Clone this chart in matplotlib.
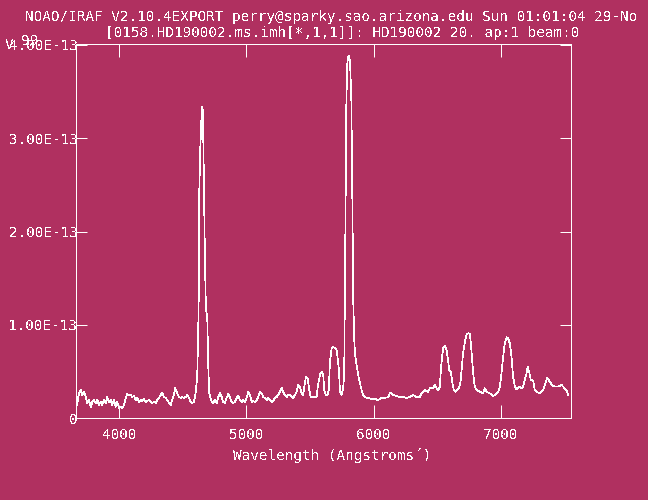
import numpy as np
import matplotlib
matplotlib.use("Agg")
import matplotlib.pyplot as plt

# ---- data ----
wavelength = [
    3659, 3670, 3683, 3696, 3709, 3722, 3736, 3748, 3762, 3775, 3788, 3801, 3814, 3827, 3840,
    3854, 3866, 3880, 3893, 3905, 3919, 3932, 3945, 3958, 3971, 3984, 3997, 4011, 4023, 4037,
    4050, 4063, 4076, 4089, 4102, 4115, 4129, 4141, 4155, 4168, 4181, 4194, 4207, 4220, 4233,
    4247, 4259, 4273, 4286, 4299, 4312, 4325, 4338, 4351, 4365, 4377, 4391, 4404, 4416, 4430,
    4438, 4451, 4469, 4483, 4495, 4508, 4522, 4534, 4548, 4561, 4574, 4587, 4595, 4603, 4613,
    4621, 4626, 4629, 4637, 4642, 4648, 4652, 4656, 4660, 4666, 4674, 4681, 4692, 4700, 4707,
    4718, 4726, 4739, 4752, 4766, 4778, 4791, 4805, 4817, 4831, 4844, 4857, 4870, 4883, 4896,
    4909, 4923, 4935, 4949, 4962, 4975, 4988, 5001, 5014, 5027, 5041, 5053, 5067, 5080, 5093,
    5106, 5119, 5132, 5145, 5159, 5171, 5185, 5198, 5211, 5224, 5237, 5250, 5263, 5277, 5289,
    5303, 5316, 5328, 5342, 5355, 5368, 5381, 5394, 5407, 5420, 5434, 5446, 5460, 5468, 5481,
    5494, 5505, 5525, 5552, 5560, 5570, 5583, 5596, 5604, 5612, 5623, 5638, 5648, 5656, 5670,
    5682, 5696, 5709, 5722, 5729, 5735, 5748, 5761, 5769, 5774, 5780, 5786, 5794, 5802, 5810,
    5817, 5825, 5833, 5840, 5847, 5853, 5866, 5879, 5892, 5906, 5918, 5931, 5957, 5984, 6010,
    6036, 6063, 6089, 6115, 6128, 6141, 6154, 6181, 6207, 6233, 6259, 6285, 6311, 6338, 6364,
    6377, 6390, 6403, 6429, 6443, 6468, 6482, 6495, 6508, 6521, 6529, 6539, 6547, 6560, 6574,
    6586, 6594, 6608, 6618, 6631, 6645, 6657, 6671, 6684, 6692, 6704, 6718, 6731, 6744, 6757,
    6765, 6775, 6786, 6796, 6810, 6836, 6862, 6875, 6888, 6914, 6940, 6967, 6980, 6993, 7006,
    7019, 7032, 7046, 7058, 7071, 7085, 7097, 7111, 7124, 7137, 7150, 7163, 7176, 7189, 7203,
    7211, 7223, 7237, 7255, 7268, 7281, 7307, 7333, 7347, 7365, 7378, 7394, 7412, 7439, 7465,
    7478, 7504, 7517, 7530,
]
flux_e13 = [
    0.110, 0.164, 0.271, 0.303, 0.250, 0.282, 0.228, 0.164, 0.196, 0.121, 0.175, 0.196, 0.164, 0.196, 0.143,
    0.175, 0.143, 0.196, 0.164, 0.228, 0.175, 0.196, 0.143, 0.196, 0.121, 0.175, 0.110, 0.121, 0.110, 0.143,
    0.218, 0.260, 0.250, 0.250, 0.228, 0.239, 0.196, 0.218, 0.175, 0.196, 0.185, 0.207, 0.175, 0.185, 0.196,
    0.175, 0.164, 0.175, 0.164, 0.196, 0.218, 0.250, 0.271, 0.228, 0.218, 0.196, 0.164, 0.143, 0.196, 0.250,
    0.325, 0.282, 0.228, 0.218, 0.228, 0.218, 0.228, 0.250, 0.218, 0.175, 0.164, 0.175, 0.228, 0.300, 0.464,
    0.969, 1.429, 2.426, 2.900, 3.058, 3.305, 3.337, 3.305, 3.058, 2.447, 1.654, 1.183, 1.065, 0.550, 0.271,
    0.218, 0.175, 0.164, 0.196, 0.164, 0.228, 0.271, 0.228, 0.175, 0.164, 0.218, 0.260, 0.228, 0.175, 0.164,
    0.175, 0.218, 0.239, 0.196, 0.175, 0.196, 0.175, 0.218, 0.282, 0.250, 0.175, 0.185, 0.175, 0.196, 0.228,
    0.282, 0.271, 0.228, 0.218, 0.196, 0.218, 0.196, 0.175, 0.185, 0.218, 0.228, 0.250, 0.282, 0.325, 0.282,
    0.250, 0.228, 0.250, 0.250, 0.228, 0.218, 0.250, 0.282, 0.357, 0.335, 0.271, 0.250, 0.378, 0.443, 0.432,
    0.303, 0.228, 0.228, 0.228, 0.325, 0.410, 0.486, 0.496, 0.464, 0.303, 0.250, 0.250, 0.303, 0.593, 0.753,
    0.764, 0.753, 0.732, 0.593, 0.486, 0.282, 0.250, 0.325, 0.486, 1.268, 2.340, 3.412, 3.819, 3.883, 3.873,
    3.733, 3.412, 2.340, 1.268, 0.871, 0.700, 0.571, 0.464, 0.378, 0.303, 0.250, 0.228, 0.218, 0.207, 0.207,
    0.196, 0.218, 0.218, 0.228, 0.271, 0.271, 0.250, 0.239, 0.228, 0.228, 0.218, 0.228, 0.250, 0.228, 0.228,
    0.271, 0.282, 0.303, 0.282, 0.325, 0.325, 0.357, 0.322, 0.303, 0.339, 0.518, 0.660, 0.753, 0.775, 0.732,
    0.625, 0.518, 0.499, 0.392, 0.303, 0.285, 0.303, 0.322, 0.392, 0.518, 0.700, 0.821, 0.893, 0.911, 0.904,
    0.804, 0.625, 0.446, 0.339, 0.303, 0.285, 0.268, 0.322, 0.285, 0.268, 0.239, 0.260, 0.285, 0.339, 0.482,
    0.660, 0.804, 0.868, 0.857, 0.804, 0.660, 0.446, 0.339, 0.311, 0.322, 0.339, 0.322, 0.339, 0.410, 0.482,
    0.553, 0.499, 0.410, 0.403, 0.303, 0.285, 0.268, 0.303, 0.357, 0.429, 0.410, 0.375, 0.346, 0.339, 0.346,
    0.357, 0.322, 0.303, 0.250,
]
flux_scale = 1e-13

x_ticks = [4000, 5000, 6000, 7000]
x_tick_labels = ["4000", "5000", "6000", "7000"]
y_ticks = [0, 1e-13, 2e-13, 3e-13, 4e-13]
y_tick_labels = ["0", "1.00E-13", "2.00E-13", "3.00E-13", "4.00E-13"]

title_line1 = "NOAO/IRAF V2.10.4EXPORT perry@sparky.sao.arizona.edu Sun 01:01:04 29-No"
title_line2 = "[0158.HD190002.ms.imh[*,1,1]]: HD190002 20. ap:1 beam:0"
x_label = "Wavelength (Angstroms\u00b4)"

# ---- style ----
BG = "#b03060"
FG = "white"
FONT = "DejaVu Sans Mono"
FS = 10.3
LW = 0.72
plt.rcParams["text.antialiased"] = False
plt.rcParams["font.family"] = [FONT]

W, H = 648, 500
fig = plt.figure(figsize=(W / 100, H / 100), dpi=100, facecolor=BG)
ax_l, ax_r, ax_t, ax_b = 75.7, 571.3, 44.0, 418.3
ax = fig.add_axes([ax_l / W, 1 - ax_b / H, (ax_r - ax_l) / W, (ax_b - ax_t) / H])
ax.set_facecolor(BG)

flux = np.array(flux_e13) * flux_scale
ax.plot(wavelength, flux, color=FG, lw=0.5, antialiased=False)

ax.set_xlim(3657, 7555)
ax.set_ylim(0, 4.01e-13)

for s in ax.spines.values():
    s.set_color(FG)
    s.set_linewidth(LW)
    s.set_antialiased(False)

ax.set_xticks(x_ticks)
ax.set_xticklabels(x_tick_labels)
ax.set_yticks(y_ticks)
ax.set_yticklabels(y_tick_labels)
ax.tick_params(axis="x", which="major", direction="in", length=9.4, width=LW,
               color=FG, labelcolor=FG, labelsize=FS, top=True, pad=7)
ax.tick_params(axis="y", which="major", direction="in", length=8, width=LW,
               color=FG, labelcolor=FG, labelsize=FS, right=True, pad=-1.5)
for lab in ax.get_xticklabels() + ax.get_yticklabels():
    lab.set_fontfamily(FONT)

def px(x, y):
    return x / W, 1 - y / H

fig.text(*px(25, 21.5), title_line1, color=FG, fontsize=FS, ha="left", va="baseline", family=FONT)
fig.text(*px(105, 37.5), title_line2, color=FG, fontsize=FS, ha="left", va="baseline", family=FONT)
fig.text(*px(232.7, 460), x_label, color=FG, fontsize=FS, ha="left", va="baseline", family=FONT)
# overlaid cursor-readout fragments near the top-left corner (as in the reference)
fig.text(*px(5, 49), "V", color=FG, fontsize=FS, ha="left", va="baseline", family=FONT)
fig.text(*px(21, 45), "99", color=FG, fontsize=FS, ha="left", va="baseline", family=FONT)

fig.savefig("out.png", dpi=100, facecolor=BG)
